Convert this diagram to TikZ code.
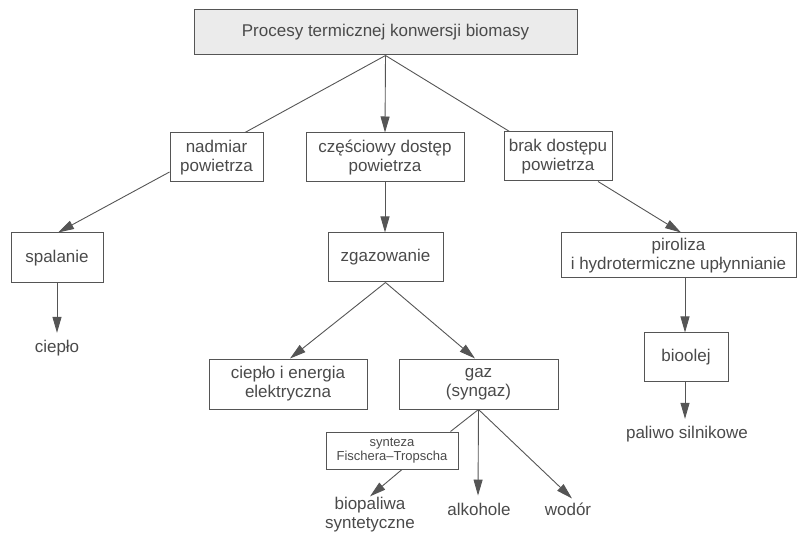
\documentclass[tikz,border=0pt]{standalone}
\usepackage{fontspec}
\setmainfont{Liberation Sans}
\usetikzlibrary{arrows.meta,calc}
\definecolor{txt}{HTML}{4A4A4A}
\definecolor{ln}{HTML}{555555}
\definecolor{boxfill}{HTML}{EBEBEB}
\begin{document}
\begin{tikzpicture}[x=1pt,y=-1pt,
  box/.style={draw=ln,line width=1pt,inner sep=0pt,align=center,text=txt,
    font=\fontsize{17}{19}\selectfont},
  lbl/.style={inner sep=0pt,align=center,text=txt,font=\fontsize{17}{19}\selectfont},
  conn/.style={draw=ln,line width=0.9pt},
  arr/.style={conn,-{Triangle[length=16pt,width=9pt]},shorten >=0pt}]
\useasboundingbox (0,0) rectangle (800,534);
\node[box,fill=boxfill,minimum width=383pt,minimum height=45pt] (top) at (385.5,32.5) {Procesy termicznej konwersji biomasy};
\node[box,minimum width=93pt,minimum height=49pt] (nad) at (216.5,157.5) {nadmiar\\powietrza};
\node[box,minimum width=158pt,minimum height=49pt] (cze) at (385,157.5) {częściowy dostęp\\powietrza};
\node[box,minimum width=108pt,minimum height=49pt] (brak) at (558,156.5) {brak dostępu\\powietrza};
\node[box,minimum width=92pt,minimum height=50pt] (spal) at (57,258) {spalanie};
\node[box,minimum width=115pt,minimum height=49pt] (zgaz) at (385.5,257.5) {zgazowanie};
\node[box,minimum width=235pt,minimum height=45pt] (pir) at (678.5,255.5) {piroliza\\i hydrotermiczne upłynnianie};
\node[box,minimum width=158pt,minimum height=50pt] (cee) at (288,384) {ciepło i energia\\elektryczna};
\node[box,minimum width=159pt,minimum height=50pt] (gaz) at (478.5,384) {gaz\\(syngaz)};
\node[box,minimum width=132pt,minimum height=37pt,font=\fontsize{13}{14}\selectfont] (ft) at (392,450.5) {synteza\\Fischera–Tropscha};
\node[box,minimum width=84pt,minimum height=48pt] (bio) at (686,357) {bioolej};
\node[lbl] (cie) at (57,348) {ciepło};
\node[lbl] (pal) at (687,434) {paliwo silnikowe};
\node[lbl] (bps) at (370,515) {biopaliwa\\syntetyczne};
\node[lbl] (alk) at (479,509) {alkohole};
\node[lbl] (wod) at (568,509) {wodór};
% connectors
\draw[conn] (top.south) -- ($(nad.north)+(28.5,0)$);
\draw[arr] (top.south) -- (cze.north);
\draw[conn] (top.south) -- ($(brak.north west)+(6,0)$);
\draw[arr] ($(nad.west)+(0,14.5)$) -- ($(spal.north)+(1,0)$);
\draw[arr] (spal.south) -- ($(cie.north)+(0,-7)$);
\draw[arr] (cze.south) -- (zgaz.north -| cze.south);
\draw[arr] ($(brak.south)+(40,0)$) -- ($(pir.north)+(2.5,0)$);
\draw[arr] ($(pir.south)+(6.5,0)$) -- (bio.north -| 685,0);
\draw[arr] ($(bio.south)+(-1,0)$) -- ($(pal.north)+(-2,-7)$);
\draw[arr] (zgaz.south) -- ($(cee.north)+(2,0)$);
\draw[arr] (zgaz.south) -- ($(gaz.north)+(-3.5,0)$);
\draw[conn] (gaz.south) -- ($(ft.north east)+(-8,0)$);
\draw[arr] (gaz.south) -- ($(alk.north)+(-1,-7)$);
\draw[arr] (gaz.south) -- ($(wod.north)+(4,-4)$);
\draw[arr] ($(ft.south)+(10,0)$) -- ($(bps.north)+(0,-1)$);
\end{tikzpicture}
\end{document}
